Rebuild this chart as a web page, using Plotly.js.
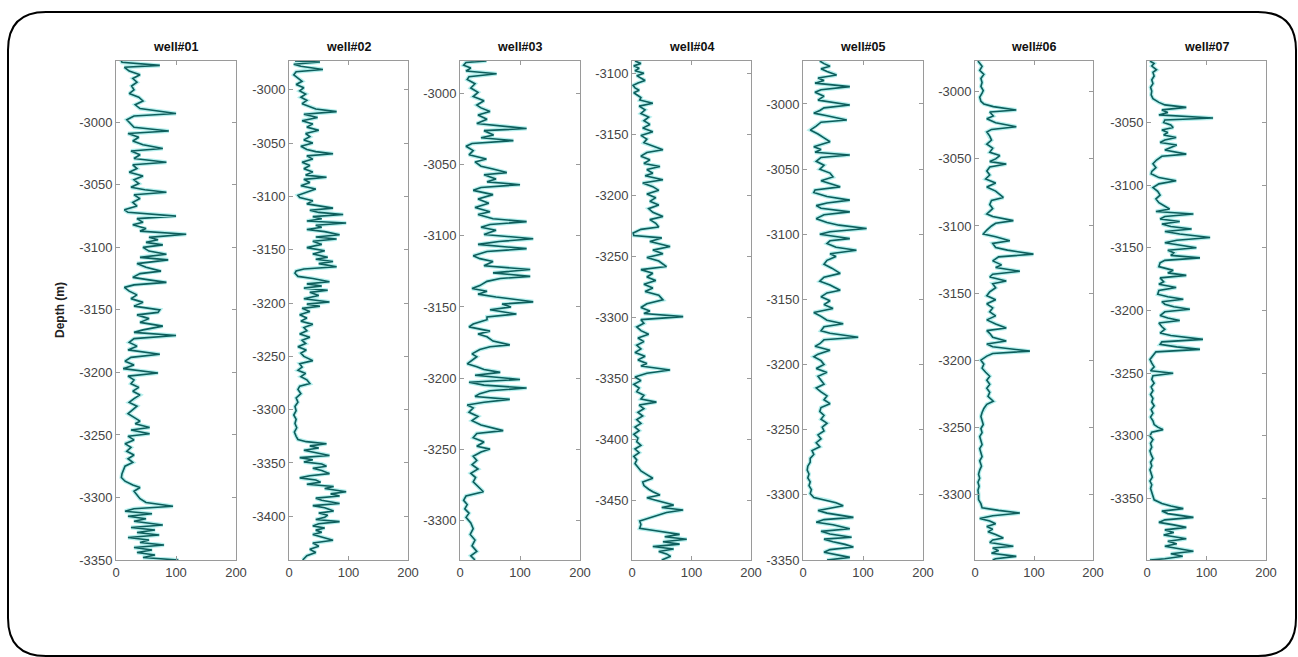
<!DOCTYPE html>
<html>
<head>
<meta charset="utf-8">
<script src="https://cdn.plot.ly/plotly-3.0.1.min.js"></script>
<style>
html,body{margin:0;padding:0;background:#fff;}
#chart{width:1298px;height:657px;}
</style>
</head>
<body>
<div id="chart"></div>
<script>
// ---- data: [depth (m), log value] ----
const wellNames = ["well#01","well#02","well#03","well#04","well#05","well#06","well#07"];
const xTickVals = [0, 100, 200];
const depthRanges = [[-3350,-2951],[-3441,-2973],[-3328,-2977],[-3499,-3090],[-3350,-2967],[-3349,-2977],[-3399,-3001]];

const well01 = [[-2950,8],[-2952,10],[-2954.5,73],[-2956,14],[-2959,22],[-2962,40],[-2965,28],[-2968,35],[-2971,26],[-2974,30],
[-2977,22],[-2980,38],[-2983,45],[-2986,32],[-2989,40],[-2993,100],[-2995,30],[-2998,18],[-3001,24],[-3004,30],
[-3007,88],[-3009,20],[-3012,38],[-3015,28],[-3018,45],[-3021,78],[-3023,25],[-3026,40],[-3029,30],[-3032,84],
[-3034,28],[-3037,35],[-3040,22],[-3043,45],[-3046,30],[-3049,38],[-3052,25],[-3054,48],[-3056,84],[-3058,30],
[-3061,40],[-3064,28],[-3067,35],[-3070,14],[-3072,20],[-3075,100],[-3077,35],[-3080,45],[-3082,28],[-3085,50],
[-3087,40],[-3089.5,117],[-3092,55],[-3094,70],[-3096,50],[-3098,78],[-3100,45],[-3103,55],[-3105.5,84],[-3108,40],
[-3110,87],[-3113,35],[-3116,50],[-3119,75],[-3121,40],[-3124,28],[-3126,55],[-3128,84],[-3130,30],[-3132,14],
[-3135,22],[-3138,35],[-3141,25],[-3144,45],[-3147,30],[-3150,73],[-3152,70],[-3154,35],[-3157,55],[-3160,40],
[-3163,78],[-3166,45],[-3168,30],[-3170.5,100],[-3173,30],[-3176,22],[-3179,35],[-3182,20],[-3185.5,73],[-3188,25],
[-3191,15],[-3194,30],[-3197,12],[-3200.5,70],[-3203,20],[-3206,30],[-3209,25],[-3212,38],[-3215,28],[-3218,40],
[-3221,30],[-3224,22],[-3227,35],[-3230,28],[-3233,20],[-3236,30],[-3239,40],[-3241,32],[-3244,56],[-3246,25],
[-3249,56],[-3251,20],[-3254,30],[-3257,15],[-3260,25],[-3263,18],[-3266,30],[-3269,20],[-3272,28],[-3275,15],
[-3278,12],[-3281,10],[-3284,9],[-3287,15],[-3290,28],[-3292,40],[-3295,30],[-3298,35],[-3301,40],[-3304,50],
[-3307,95],[-3309,30],[-3311,15],[-3313,60],[-3315,20],[-3317,50],[-3319,30],[-3322,78],[-3324,25],[-3326,65],
[-3328,35],[-3330,72],[-3332,20],[-3334,55],[-3336,40],[-3338,80],[-3340,30],[-3342,60],[-3344,35],[-3346,65],
[-3348,45],[-3350,104]];

const well02 = [[-2973,10],[-2974,52],[-2976,8],[-2978,20],[-2981,57],[-2983,12],[-2986,8],[-2989,15],[-2992,22],[-2995,12],
[-2998,25],[-3001,18],[-3004,28],[-3007,20],[-3010,30],[-3013,22],[-3016,35],[-3018,45],[-3020.5,80],[-3023,25],
[-3026,48],[-3029,22],[-3032,40],[-3035,30],[-3038,50],[-3041,28],[-3044,35],[-3047,25],[-3050,40],[-3053,20],
[-3056,30],[-3058,45],[-3060,74],[-3062,30],[-3065,40],[-3068,22],[-3071,35],[-3074,25],[-3077,40],[-3080,28],
[-3082,63],[-3084,25],[-3087,35],[-3090,20],[-3093,45],[-3096,28],[-3099,15],[-3101,18],[-3104,40],[-3107,30],
[-3109,55],[-3111,74],[-3113,35],[-3115,50],[-3117,91],[-3119,40],[-3121,55],[-3123,30],[-3125,96],[-3127,45],
[-3129,55],[-3131,30],[-3133,60],[-3136,85],[-3138,45],[-3140,80],[-3142,40],[-3145,55],[-3148,30],[-3151,60],
[-3154,40],[-3157,65],[-3159,45],[-3161,74],[-3163,50],[-3166,80],[-3168,25],[-3170,12],[-3172,10],[-3175,15],
[-3177,40],[-3180,68],[-3182,30],[-3184,55],[-3186,25],[-3188,65],[-3190,35],[-3193,50],[-3196,25],[-3199,68],
[-3201,30],[-3203,52],[-3205,22],[-3208,35],[-3211,18],[-3214,30],[-3217,20],[-3220,40],[-3223,25],[-3226,30],
[-3229,18],[-3232,35],[-3235,22],[-3238,28],[-3241,15],[-3244,29],[-3247,20],[-3250,25],[-3254,40],[-3257,18],
[-3260,22],[-3263,15],[-3266,28],[-3269,20],[-3272,30],[-3275.5,35],[-3278,18],[-3281,15],[-3285,20],[-3289,12],
[-3293,15],[-3297,10],[-3301,12],[-3305,8],[-3309,12],[-3313,10],[-3317,13],[-3321,9],[-3325,12],[-3328,15],
[-3330,29],[-3332,63],[-3334,35],[-3336,50],[-3338,25],[-3340,45],[-3343,68],[-3345,18],[-3347,40],[-3349,25],
[-3351,55],[-3353,63],[-3355,40],[-3357,55],[-3360,68],[-3362,35],[-3364,18],[-3366,45],[-3368,53],[-3370,30],
[-3372,75],[-3374,60],[-3377,96],[-3379,70],[-3381,85],[-3383,45],[-3385,55],[-3388,85],[-3390,40],[-3392,60],
[-3395,75],[-3397,50],[-3399,65],[-3401,60],[-3403,45],[-3405,85],[-3407,50],[-3409,40],[-3411,60],[-3413,45],
[-3415,55],[-3417,40],[-3420,60],[-3422.5,74],[-3425,40],[-3428,50],[-3431,35],[-3434,45],[-3437,30],[-3441,23]];

const well03 = [[-2976,8],[-2977,44],[-2978,10],[-2980,6],[-2982,18],[-2984,10],[-2986,61],[-2988,15],[-2990,12],[-2993,25],
[-2996,18],[-2999,30],[-3002,22],[-3005,40],[-3008,28],[-3010,35],[-3012.5,50],[-3015,30],[-3018,45],[-3021,28],
[-3024.5,111],[-3026,40],[-3029,56],[-3031,35],[-3033,89],[-3035,20],[-3037,10],[-3040,22],[-3043,15],[-3046,44],
[-3048,25],[-3051,35],[-3053,55],[-3055.5,78],[-3057,40],[-3060,60],[-3062,45],[-3064,100],[-3066,35],[-3068,22],
[-3071,55],[-3074,30],[-3077,48],[-3080,25],[-3083,50],[-3085,30],[-3088,55],[-3090,111],[-3092,50],[-3094,35],
[-3096,60],[-3099,40],[-3102,122],[-3104,65],[-3106,30],[-3109,111],[-3111,45],[-3114,22],[-3116,33],[-3118,55],
[-3121,40],[-3123.7,117],[-3126,55],[-3128.5,117],[-3130,67],[-3132,45],[-3135,33],[-3137,20],[-3139,45],[-3141,30],
[-3143,60],[-3146.4,122],[-3148,70],[-3150,85],[-3152,50],[-3155,94],[-3157,45],[-3159,45],[-3162,22],[-3164,15],
[-3167,50],[-3169,30],[-3171,45],[-3174,55],[-3176.7,83],[-3178,50],[-3180,33],[-3183,20],[-3185,28],[-3188,18],
[-3190,12],[-3192,28],[-3194,40],[-3196,67],[-3198,25],[-3201,100],[-3203,15],[-3205,40],[-3207,111],[-3209,50],
[-3211,33],[-3213,25],[-3215,83],[-3217,40],[-3219,12],[-3221,22],[-3224,15],[-3227,30],[-3230,20],[-3233,35],
[-3237,72],[-3239,28],[-3242,22],[-3245,40],[-3248,28],[-3250,50],[-3252,35],[-3255,22],[-3258,28],[-3261,20],
[-3264,30],[-3267,18],[-3270,26],[-3273,22],[-3276,30],[-3280,39],[-3283,10],[-3286,6],[-3289,12],[-3292,8],
[-3295,15],[-3298,10],[-3302,18],[-3306,22],[-3310,17],[-3314,25],[-3318,20],[-3322,28],[-3325,18],[-3328,25]];

const well04 = [[-3090,5],[-3092,15],[-3094,3],[-3096,12],[-3098,5],[-3100,20],[-3102,8],[-3104,15],[-3106,22],[-3108,10],
[-3110,2],[-3112,5],[-3114,12],[-3116,3],[-3118,8],[-3120,15],[-3122,13],[-3124.6,35],[-3127,12],[-3130,22],
[-3133,15],[-3136,28],[-3139,20],[-3142,30],[-3145,18],[-3148,35],[-3151,15],[-3154,25],[-3157,20],[-3160,35],
[-3162.8,52],[-3165,25],[-3168,15],[-3171,30],[-3174,20],[-3176.5,47],[-3179,25],[-3182,35],[-3184,22],[-3187.4,52],
[-3190,18],[-3193,35],[-3196,45],[-3199,25],[-3202,40],[-3205,30],[-3208,45],[-3211,28],[-3214,35],[-3217.5,52],
[-3220,30],[-3223,40],[-3226,45],[-3228,15],[-3231,2],[-3233,3],[-3235,50],[-3238,30],[-3242,64],[-3245,35],
[-3248,52],[-3251,25],[-3254,45],[-3258.5,58],[-3261,15],[-3264,35],[-3267,25],[-3270,40],[-3273,20],[-3276,35],
[-3279,22],[-3282,45],[-3285.8,52],[-3289,25],[-3292,15],[-3295,30],[-3297,20],[-3299.5,86],[-3302,15],[-3305,20],
[-3308,8],[-3311,15],[-3314,28],[-3317,10],[-3320,20],[-3323,8],[-3326,15],[-3329,5],[-3332,22],[-3335,10],
[-3338,25],[-3340,15],[-3343.2,64],[-3346,25],[-3349,5],[-3352,15],[-3355,3],[-3358,12],[-3361,8],[-3364,20],
[-3367,15],[-3369.6,41],[-3372,12],[-3375,20],[-3378,10],[-3381,18],[-3384,8],[-3387,15],[-3390,5],[-3393,12],
[-3396,3],[-3399,10],[-3402,8],[-3405,15],[-3408,5],[-3411,12],[-3414,3],[-3417,8],[-3420,5],[-3423,10],
[-3426,15],[-3429,25],[-3432,35],[-3435,18],[-3438,20],[-3441,28],[-3443,35],[-3445.7,47],[-3448,25],[-3450,40],
[-3452.4,58],[-3454,70],[-3456,50],[-3458,86],[-3460,58],[-3462,45],[-3464,35],[-3467,13],[-3470,15],[-3473,13],
[-3475,40],[-3478,80],[-3480,55],[-3482,92],[-3484,52],[-3486,80],[-3488,35],[-3490,70],[-3492,45],[-3494,58],
[-3496,65],[-3499,50]];

const well05 = [[-2967,28],[-2969,35],[-2971,45],[-2973,30],[-2975,40],[-2977.7,56],[-2980,25],[-2982,35],[-2984,20],[-2986.7,78],
[-2989,30],[-2991,20],[-2994,35],[-2997,25],[-3000.8,78],[-3003,35],[-3005,28],[-3007,18],[-3009,40],[-3012.3,73],
[-3014,30],[-3017,22],[-3020,12],[-3023,25],[-3026,35],[-3029,45],[-3032.8,18],[-3035,30],[-3037,20],[-3039.2,78],
[-3041,30],[-3044,22],[-3047,35],[-3050,28],[-3053,45],[-3056,50],[-3059,30],[-3061,45],[-3063.6,62],[-3066,20],
[-3068,18],[-3071,40],[-3073.8,78],[-3076,40],[-3078,22],[-3080,30],[-3082.8,78],[-3085,35],[-3088,22],[-3091,40],
[-3093,60],[-3095.6,106],[-3098,45],[-3100,28],[-3103.3,78],[-3105,45],[-3107,40],[-3110,55],[-3112.3,89],[-3115,45],
[-3117,55],[-3120,40],[-3123,35],[-3126,48],[-3130,62],[-3133,35],[-3136,28],[-3139,45],[-3143,62],[-3145,40],
[-3148,30],[-3151,45],[-3154,35],[-3157,50],[-3160,18],[-3163,30],[-3166,40],[-3168.7,67],[-3171,35],[-3174,30],
[-3176,45],[-3179,92],[-3181,35],[-3184,28],[-3186,20],[-3189,45],[-3192,25],[-3194,18],[-3197,30],[-3200,35],
[-3203,22],[-3206,40],[-3209,25],[-3212,30],[-3215,35],[-3218,22],[-3221,30],[-3224,40],[-3227,35],[-3230,45],
[-3233,30],[-3236,28],[-3239,35],[-3242,30],[-3245,40],[-3248,32],[-3251,35],[-3254,25],[-3257,30],[-3260,22],
[-3263,28],[-3266,15],[-3269,18],[-3272,12],[-3275,12],[-3278,8],[-3281,7],[-3284,10],[-3287,8],[-3290,12],
[-3293,10],[-3296,14],[-3299,12],[-3302,18],[-3304.6,45],[-3306,55],[-3308.4,67],[-3310,45],[-3312,25],[-3314,40],
[-3317.3,84],[-3319,35],[-3321,22],[-3323,50],[-3326,78],[-3328,30],[-3330,45],[-3332.5,81],[-3334,35],[-3336,50],
[-3338,70],[-3340,84],[-3342,45],[-3344,35],[-3346,55],[-3348,78],[-3350,40]];

const well06 = [[-2977,5],[-2979,8],[-2981,12],[-2984,8],[-2987,15],[-2990,10],[-2993,12],[-2996,10],[-2999,14],[-3001,12],
[-3004,8],[-3007,10],[-3009,15],[-3011,31],[-3013.5,70],[-3015,25],[-3018,31],[-3020,20],[-3023,35],[-3026,70],
[-3028,28],[-3030,20],[-3033,25],[-3036,28],[-3039,20],[-3042,30],[-3045,25],[-3047.5,42],[-3050,35],[-3052,25],
[-3053.75,53],[-3056,25],[-3059,20],[-3062,25],[-3065,18],[-3068,35],[-3071,20],[-3074,35],[-3078.75,48],[-3081,28],
[-3084,25],[-3087,30],[-3091,20],[-3093,30],[-3096,65],[-3098,35],[-3100,28],[-3103,20],[-3106,14],[-3108,35],
[-3111,59],[-3113,30],[-3116,35],[-3118,55],[-3121,99],[-3123,40],[-3126,30],[-3129,45],[-3131,35],[-3133.75,76],
[-3136,30],[-3138,25],[-3141,53],[-3143,30],[-3146,35],[-3149,25],[-3152,20],[-3155,35],[-3158,20],[-3161,30],
[-3164,25],[-3167,35],[-3170,20],[-3173,35],[-3176,53],[-3178,20],[-3180,25],[-3183,30],[-3185.8,53],[-3188,20],
[-3190,30],[-3193.3,93],[-3195,30],[-3197,20],[-3200,10],[-3203,15],[-3206,12],[-3209,18],[-3212,25],[-3215,20],
[-3218,25],[-3221,20],[-3224,25],[-3227,22],[-3230.6,31],[-3233,20],[-3236,15],[-3239,12],[-3242,10],[-3245,12],
[-3248,14],[-3251,10],[-3254,12],[-3257,8],[-3260,10],[-3263,12],[-3266,8],[-3269,10],[-3272,12],[-3275,8],
[-3279,11],[-3282,8],[-3285,6],[-3288,8],[-3291,5],[-3294,7],[-3297,5],[-3300,6],[-3304,6],[-3307,10],
[-3310,12],[-3312,40],[-3314,76],[-3316,30],[-3318,8],[-3320,25],[-3322,35],[-3324,20],[-3326,30],[-3328,22],
[-3330,35],[-3332.6,48],[-3334,30],[-3336,25],[-3338.8,65],[-3340,30],[-3342,40],[-3344,28],[-3346.3,70],[-3348,35],
[-3349,30]];

const well07 = [[-3001,5],[-3003,12],[-3005,8],[-3008,16],[-3010,10],[-3013,12],[-3016,8],[-3019,10],[-3022,6],[-3025,8],
[-3028,7],[-3031,10],[-3034,20],[-3036,30],[-3038,66],[-3040,25],[-3042,35],[-3044,20],[-3046.5,111],[-3048,30],
[-3050,28],[-3052,40],[-3054,44],[-3056,25],[-3058,35],[-3060,28],[-3062,49],[-3064,30],[-3066,22],[-3068,50],
[-3070,40],[-3072,30],[-3075.3,66],[-3077,25],[-3080,16],[-3083,10],[-3086,15],[-3089,8],[-3091,7],[-3094,20],
[-3096.5,49],[-3099,20],[-3102,10],[-3105,18],[-3108,22],[-3111,15],[-3114,20],[-3117,30],[-3119,38],[-3121,15],
[-3123,78],[-3125,30],[-3127,22],[-3129,55],[-3131,25],[-3133,40],[-3135,75],[-3137,30],[-3139,55],[-3141.8,106],
[-3144,50],[-3146,30],[-3148,60],[-3150,83],[-3152,35],[-3154,45],[-3156,40],[-3158,89],[-3160,30],[-3162,22],
[-3165,20],[-3168,44],[-3170,35],[-3172,66],[-3174,22],[-3177,28],[-3179,20],[-3181.6,49],[-3184,20],[-3187,18],
[-3189,35],[-3191,61],[-3193,25],[-3195,30],[-3197,45],[-3199,72],[-3201,30],[-3204,22],[-3206,35],[-3208,55],
[-3210,20],[-3213,25],[-3215,30],[-3218,22],[-3220,40],[-3223,94],[-3225,25],[-3227,22],[-3229,50],[-3231,89],
[-3233,15],[-3236,10],[-3239,5],[-3242,8],[-3245,12],[-3248,6],[-3250,44],[-3252,10],[-3255,8],[-3258,12],
[-3261,7],[-3264,10],[-3267,6],[-3270,10],[-3273,8],[-3276,12],[-3279,7],[-3282,10],[-3285,6],[-3288,10],
[-3291,12],[-3293,18],[-3295,27],[-3297,8],[-3300,5],[-3303,10],[-3306,6],[-3309,8],[-3312,5],[-3315,7],
[-3318,10],[-3321,6],[-3324,8],[-3327,5],[-3330,7],[-3333,9],[-3336,5],[-3339,8],[-3342,6],[-3345,8],
[-3348,10],[-3351,12],[-3354,25],[-3356,40],[-3358,61],[-3360,25],[-3362,35],[-3365,78],[-3367,30],[-3369,20],
[-3371,45],[-3373,66],[-3375,30],[-3377,45],[-3379,28],[-3382,66],[-3384,35],[-3386,50],[-3388,30],[-3390,55],
[-3392,78],[-3394,40],[-3396,60],[-3398,30],[-3399,5]];

const wells = [well01, well02, well03, well04, well05, well06, well07];

// ---- layout geometry (pixels in a 1298 x 657 page) ----
const W = 1298, H = 657;
const plotLeft = [116, 289, 460, 632, 803, 975, 1147];
const plotRight = [236, 408, 580, 751, 923, 1093, 1266];
const plotTop = 61, plotBottom = 560;

const axisColor = '#9a9a9a';
const tickFont = {family: 'Liberation Sans, Arial, sans-serif', size: 13, color: '#444444'};

const traces = [];
const layout = {
  width: W, height: H,
  margin: {l: 0, r: 0, t: 0, b: 0, pad: 0},
  paper_bgcolor: '#ffffff', plot_bgcolor: '#ffffff',
  showlegend: false,
  annotations: [],
  shapes: []
};

wells.forEach((w, i) => {
  const n = i + 1;
  const xa = n === 1 ? 'x' : 'x' + n;
  const ya = n === 1 ? 'y' : 'y' + n;
  const xs = w.map(p => p[1]);
  const ys = w.map(p => p[0]);
  traces.push({type: 'scatter', mode: 'lines', x: xs, y: ys, xaxis: xa, yaxis: ya,
    line: {color: 'rgba(120,225,222,0.55)', width: 4}, hoverinfo: 'skip'});
  traces.push({type: 'scatter', mode: 'lines', x: xs, y: ys, xaxis: xa, yaxis: ya,
    line: {color: '#0d5e5c', width: 1.6}});

  const r = depthRanges[i];
  const yt = [];
  for (let v = Math.ceil(r[0] / 50) * 50; v <= r[1]; v += 50) yt.push(v);

  layout['xaxis' + (n === 1 ? '' : n)] = {
    domain: [plotLeft[i] / W, plotRight[i] / W],
    anchor: ya, range: [0, 200],
    tickvals: xTickVals, ticktext: xTickVals.map(String),
    ticks: 'inside', ticklen: 4, tickcolor: axisColor, tickwidth: 1,
    showline: true, linecolor: axisColor, linewidth: 1, mirror: 'ticks',
    showgrid: false, zeroline: false, tickfont: tickFont, fixedrange: true
  };
  layout['yaxis' + (n === 1 ? '' : n)] = {
    domain: [1 - plotBottom / H, 1 - plotTop / H],
    anchor: xa, range: r,
    tickvals: yt, ticktext: yt.map(String),
    ticks: 'inside', ticklen: 4, tickcolor: axisColor, tickwidth: 1,
    showline: true, linecolor: axisColor, linewidth: 1, mirror: 'ticks',
    showgrid: false, zeroline: false, tickfont: tickFont, fixedrange: true
  };

  layout.annotations.push({
    text: '<b>' + wellNames[i] + '</b>', xref: 'paper', yref: 'paper',
    x: (plotLeft[i] + plotRight[i]) / 2 / W, y: 1 - 47 / H,
    xanchor: 'center', yanchor: 'middle', showarrow: false,
    font: {family: 'Liberation Sans, Arial, sans-serif', size: 12.5, color: '#111'}
  });
});

layout.annotations.push({
  text: '<b>Depth (m)</b>', xref: 'paper', yref: 'paper',
  x: 60 / W, y: 1 - 310 / H, textangle: -90,
  xanchor: 'center', yanchor: 'middle', showarrow: false,
  font: {family: 'Liberation Sans, Arial, sans-serif', size: 12, color: '#222'}
});

// rounded outer frame
(function () {
  const x0 = 8 / W, x1 = 1296 / W, y0 = 1 - 656 / H, y1 = 1 - 12 / H;
  const rx = 38 / W, ry = 38 / H;
  const p = 'M ' + (x0 + rx) + ',' + y1 + ' L ' + (x1 - rx) + ',' + y1 +
    ' Q ' + x1 + ',' + y1 + ' ' + x1 + ',' + (y1 - ry) +
    ' L ' + x1 + ',' + (y0 + ry) + ' Q ' + x1 + ',' + y0 + ' ' + (x1 - rx) + ',' + y0 +
    ' L ' + (x0 + rx) + ',' + y0 + ' Q ' + x0 + ',' + y0 + ' ' + x0 + ',' + (y0 + ry) +
    ' L ' + x0 + ',' + (y1 - ry) + ' Q ' + x0 + ',' + y1 + ' ' + (x0 + rx) + ',' + y1 + ' Z';
  layout.shapes.push({type: 'path', xref: 'paper', yref: 'paper', path: p,
    line: {color: '#000', width: 2}, fillcolor: 'rgba(0,0,0,0)', layer: 'below'});
})();

Plotly.newPlot('chart', traces, layout, {displayModeBar: false, staticPlot: true});
</script>
</body>
</html>
